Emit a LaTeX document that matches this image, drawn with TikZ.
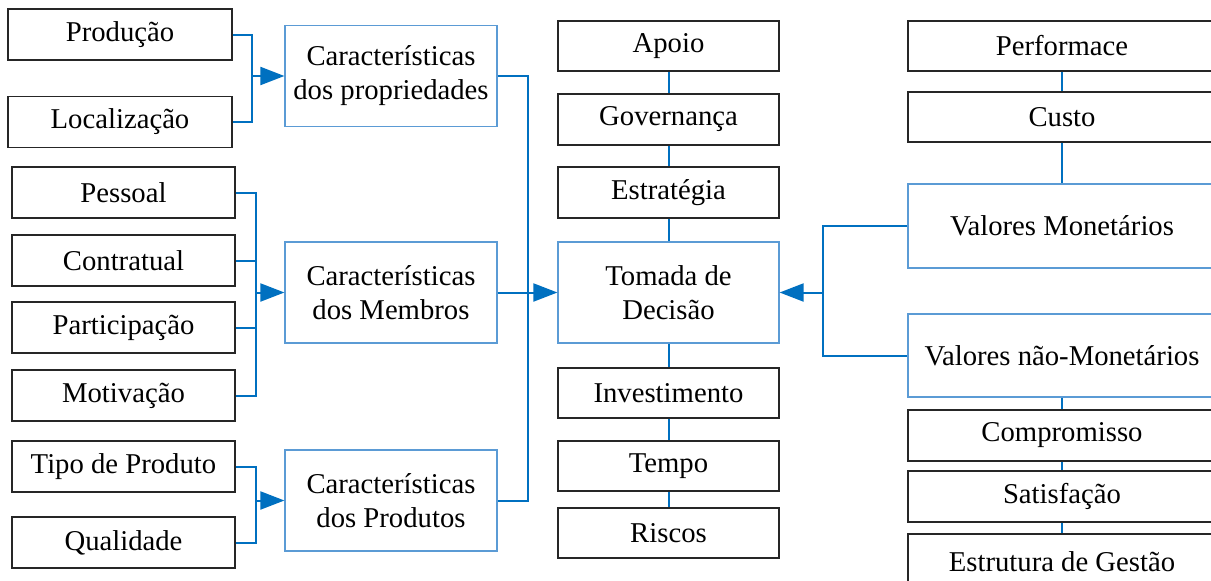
\documentclass[tikz,border=0pt]{standalone}
\usepackage{fontspec}
\setmainfont{Liberation Serif}
\usetikzlibrary{arrows.meta}
\definecolor{lineblue}{HTML}{0070C0}
\definecolor{boxblue}{HTML}{5B9BD5}
\begin{document}
\begin{tikzpicture}[x=1pt,y=-1pt,
  box/.style={draw=black!85, line width=1.2pt, inner sep=0pt, align=center,
    font=\fontsize{28.7}{34}\selectfont, minimum height=51pt},
  bbox/.style={box, draw=boxblue},
  colA/.style={box, minimum width=224pt},
  colB/.style={box, minimum width=223pt},
  colC/.style={bbox, minimum width=212pt, minimum height=101pt},
  colD/.style={box, minimum width=221pt},
  colE/.style={box, minimum width=308pt},
  conn/.style={draw=lineblue, line width=2pt},
  arr/.style={conn, -{Triangle[length=24pt,width=18pt]}}]
\useasboundingbox (0,0) rectangle (1211,581);
\clip (0,0) rectangle (1211,581);
\fill[white] (0,0) rectangle (1211,581);
% left column A
\node[colA] (prod) at (120,34.5) {Produção};
\node[colA] (loc) at (120,122) {Localização};
% left column B
\node[colB] (pes) at (123.5,192.5) {Pessoal};
\node[colB] (con) at (123.5,260.5) {Contratual};
\node[colB] (par) at (123.5,327.5) {Participação};
\node[colB] (mot) at (123.5,395.5) {Motivação};
\node[colB] (tip) at (123.5,466.5) {Tipo de Produto};
\node[colB] (qua) at (123.5,542.5) {Qualidade};
% middle column
\node[colC] (props) at (391,76) {Características\\dos propriedades};
\node[colC] (mem) at (391,292.5) {Características\\dos Membros};
\node[colC] (prd) at (391,500.5) {Características\\dos Produtos};
% center column
\node[colD, minimum height=50pt] (apo) at (668.5,46) {Apoio};
\node[colD] (gov) at (668.5,119.5) {Governança};
\node[colD] (est) at (668.5,192.5) {Estratégia};
\node[colD, draw=boxblue, minimum height=101pt] (tom) at (668.5,292.5) {Tomada de\\Decisão};
\node[colD, minimum height=50pt] (inv) at (668.5,393) {Investimento};
\node[colD, minimum height=50pt] (tem) at (668.5,466) {Tempo};
\node[colD, minimum height=50pt] (ris) at (668.5,533) {Riscos};
% right column
\node[colE, minimum height=50pt] (per) at (1062,46) {Performace};
\node[colE, minimum height=50pt] (cus) at (1062,117) {Custo};
\node[colE, draw=boxblue, minimum height=84pt] (vm) at (1062,226) {Valores Monetários};
\node[colE, draw=boxblue, minimum height=83pt] (vnm) at (1062,355.5) {Valores não-Monetários};
\node[colE] (com) at (1062,435.5) {Compromisso};
\node[colE] (sat) at (1062,496.5) {Satisfação};
\node[colE, minimum height=56pt] (estr) at (1062,562) {Estrutura de Gestão};
% bus coordinates
\coordinate (b1) at (252,76);
\coordinate (b2) at (256,292.5);
\coordinate (b3) at (256,500.5);
\coordinate (b4) at (528,292.5);
\coordinate (b5) at (823,292.5);
% left connectors
\draw[conn] (prod.east) -- (prod.east -| b1) -- (loc.east -| b1) -- (loc.east);
\draw[arr] (b1) -- (props.west);
\draw[conn] (pes.east) -- (pes.east -| b2) -- (mot.east -| b2) -- (mot.east);
\draw[conn] (con.east) -- (con.east -| b2);
\draw[conn] (par.east) -- (par.east -| b2);
\draw[arr] (b2) -- (mem.west);
\draw[conn] (tip.east) -- (tip.east -| b3) -- (qua.east -| b3) -- (qua.east);
\draw[arr] (b3) -- (prd.west);
% middle to center
\draw[conn] (props.east) -- (props.east -| b4) -- (prd.east -| b4) -- (prd.east);
\draw[arr] (mem.east) -- (tom.west);
% center chain
\draw[conn] (apo.south) -- (gov.north);
\draw[conn] (gov.south) -- (est.north);
\draw[conn] (est.south) -- (tom.north);
\draw[conn] (tom.south) -- (inv.north);
\draw[conn] (inv.south) -- (tem.north);
\draw[conn] (tem.south) -- (ris.north);
% right chain
\draw[conn] (per.south) -- (cus.north);
\draw[conn] (cus.south) -- (vm.north);
\draw[conn] (vnm.south) -- (com.north);
\draw[conn] (com.south) -- (sat.north);
\draw[conn] (sat.south) -- (estr.north);
\draw[conn] (vm.west) -- (vm.west -| b5) -- (vnm.west -| b5) -- (vnm.west);
\draw[arr] (b5) -- (tom.east);
\end{tikzpicture}
\end{document}
